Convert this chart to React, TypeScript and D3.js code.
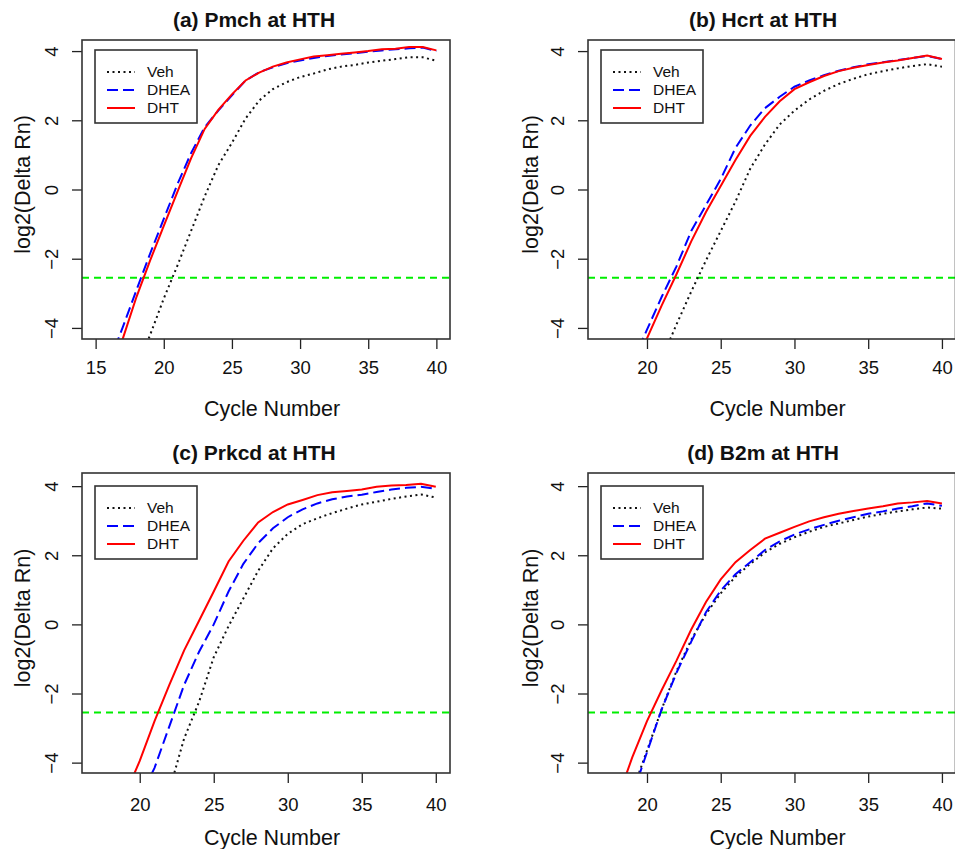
import React, { useRef, useEffect } from 'react';
import { select, scaleLinear, axisBottom, axisLeft, line } from 'd3';

// qPCR amplification curves, log2(Delta Rn) by cycle
const seriesNames = ['Veh', 'DHEA', 'DHT'];
const panelTitles = ['(a) Pmch at HTH', '(b) Hcrt at HTH', '(c) Prkcd at HTH', '(d) B2m at HTH'];
const xTicksA = [15, 20, 25, 30, 35, 40];
const xTicksRest = [20, 25, 30, 35, 40];
const yTicks = [-4, -2, 0, 2, 4];
const threshold = -2.55;

const pmchCycles = [16, 17, 18, 19, 20, 21, 22, 23, 24, 25, 26, 27, 28, 29, 30, 31, 32, 33, 34, 35, 36, 37, 38, 39, 40];
const pmchVeh = [-7.1, -6.1, -5.2, -4.2, -3.15, -2.2, -1.2, -0.2, 0.7, 1.35, 2.05, 2.57, 2.9, 3.1, 3.25, 3.35, 3.47, 3.55, 3.6, 3.67, 3.72, 3.77, 3.82, 3.82, 3.72];
const pmchDhea = [-5.0, -3.97, -2.9, -1.85, -0.85, 0.15, 1.05, 1.8, 2.28, 2.72, 3.15, 3.39, 3.53, 3.65, 3.73, 3.8, 3.86, 3.9, 3.94, 3.98, 4.02, 4.05, 4.08, 4.1, 4.0];
const pmchDht = [-5.3, -4.3, -3.1, -2.05, -1.05, -0.07, 0.9, 1.75, 2.3, 2.75, 3.15, 3.38, 3.55, 3.67, 3.76, 3.84, 3.88, 3.92, 3.96, 4.0, 4.05, 4.07, 4.12, 4.12, 4.02];

const hcrtCycles = [19, 20, 21, 22, 23, 24, 25, 26, 27, 28, 29, 30, 31, 32, 33, 34, 35, 36, 37, 38, 39, 40];
const hcrtVeh = [-6.8, -5.85, -4.9, -3.9, -2.95, -2.05, -1.2, -0.35, 0.6, 1.3, 1.88, 2.28, 2.6, 2.85, 3.05, 3.2, 3.33, 3.42, 3.5, 3.57, 3.62, 3.55];
const hcrtDhea = [-5.0, -4.05, -3.1, -2.22, -1.2, -0.45, 0.3, 1.2, 1.85, 2.35, 2.68, 2.97, 3.15, 3.3, 3.43, 3.53, 3.62, 3.68, 3.74, 3.8, 3.86, 3.77];
const hcrtDht = [-5.3, -4.3, -3.35, -2.45, -1.5, -0.65, 0.1, 0.85, 1.55, 2.1, 2.55, 2.9, 3.1, 3.28, 3.42, 3.52, 3.6, 3.67, 3.73, 3.8, 3.87, 3.77];

const prkcdCycles = [19, 20, 21, 22, 23, 24, 25, 26, 27, 28, 29, 30, 31, 32, 33, 34, 35, 36, 37, 38, 39, 40];
const prkcdVeh = [-8.0, -7.0, -5.9, -4.8, -3.3, -2.25, -0.95, -0.05, 0.75, 1.55, 2.2, 2.62, 2.9, 3.07, 3.22, 3.35, 3.47, 3.55, 3.63, 3.7, 3.76, 3.67];
const prkcdDhea = [-6.0, -5.05, -4.15, -2.95, -1.75, -0.8, 0.0, 0.95, 1.75, 2.35, 2.78, 3.1, 3.33, 3.5, 3.62, 3.7, 3.75, 3.83, 3.9, 3.95, 3.98, 3.92];
const prkcdDht = [-4.95, -3.95, -2.8, -1.75, -0.75, 0.1, 0.95, 1.82, 2.42, 2.95, 3.25, 3.47, 3.6, 3.74, 3.82, 3.86, 3.9, 3.98, 4.02, 4.03, 4.07, 3.98];

const b2mCycles = [18, 19, 20, 21, 22, 23, 24, 25, 26, 27, 28, 29, 30, 31, 32, 33, 34, 35, 36, 37, 38, 39, 40];
const b2mVeh = [-6.1, -4.85, -3.65, -2.45, -1.35, -0.45, 0.3, 0.9, 1.38, 1.75, 2.08, 2.33, 2.52, 2.68, 2.82, 2.92, 3.02, 3.12, 3.2, 3.27, 3.33, 3.38, 3.35];
const b2mDhea = [-6.2, -4.95, -3.7, -2.45, -1.4, -0.5, 0.35, 0.98, 1.45, 1.8, 2.15, 2.4, 2.6, 2.75, 2.88, 3.0, 3.1, 3.2, 3.27, 3.35, 3.42, 3.5, 3.43];
const b2mDht = [-5.05, -3.85, -2.8, -1.9, -1.05, -0.15, 0.65, 1.3, 1.8, 2.15, 2.48, 2.65, 2.82, 2.98, 3.1, 3.2, 3.28, 3.35, 3.42, 3.5, 3.53, 3.57, 3.5];

const seriesStyle = [
  { color: '#111', dash: '2,3.5' },
  { color: '#0000ff', dash: '11,5' },
  { color: '#ff0000', dash: null },
];

const panels = [
  { title: panelTitles[0], cycles: pmchCycles, values: [pmchVeh, pmchDhea, pmchDht], xDomain: [14, 41], xTicks: xTicksA,
    left: 82, right: 450, top: 40, bottom: 339, yDomain: [-4.32, 4.32], titleX: 254, titleY: 20, tickY: 368, labelY: 408, yLabelX: 22 },
  { title: panelTitles[1], cycles: hcrtCycles, values: [hcrtVeh, hcrtDhea, hcrtDht], xDomain: [16, 40.92], xTicks: xTicksRest,
    left: 588, right: 955.5, top: 40, bottom: 339, yDomain: [-4.32, 4.32], titleX: 763, titleY: 20, tickY: 368, labelY: 408, yLabelX: 530 },
  { title: panelTitles[2], cycles: prkcdCycles, values: [prkcdVeh, prkcdDhea, prkcdDht], xDomain: [16.1, 40.96], xTicks: xTicksRest,
    left: 82, right: 450, top: 473, bottom: 773, yDomain: [-4.3, 4.38], titleX: 254, titleY: 453, tickY: 805, labelY: 837, yLabelX: 22 },
  { title: panelTitles[3], cycles: b2mCycles, values: [b2mVeh, b2mDhea, b2mDht], xDomain: [16, 40.92], xTicks: xTicksRest,
    left: 588, right: 955.5, top: 473, bottom: 773, yDomain: [-4.3, 4.38], titleX: 763, titleY: 453, tickY: 805, labelY: 837, yLabelX: 530 },
];

const font = 'Liberation Sans, Arial, Helvetica, sans-serif';

function App() {
  const svgRef = useRef(null);

  useEffect(() => {
    const svg = select(svgRef.current);
    svg.selectAll('*').remove();

    panels.forEach((p, pi) => {
      const g = svg.append('g');
      const x = scaleLinear().domain(p.xDomain).range([p.left, p.right]);
      const y = scaleLinear().domain(p.yDomain).range([p.bottom, p.top]);

      const clipId = `clip-${pi}`;
      g.append('clipPath').attr('id', clipId)
        .append('rect')
        .attr('x', p.left).attr('y', p.top)
        .attr('width', p.right - p.left).attr('height', p.bottom - p.top);

      // x axis
      const xg = g.append('g')
        .attr('transform', `translate(0,${p.bottom})`)
        .call(axisBottom(x).tickValues(p.xTicks).tickSize(10).tickFormat((d) => String(d)));
      xg.select('.domain').remove();
      xg.selectAll('line').attr('stroke', '#222').attr('stroke-width', 1.3);
      xg.selectAll('text')
        .attr('y', p.tickY - p.bottom).attr('dy', '0.35em')
        .attr('font-family', font).attr('font-size', 18.5).attr('fill', '#111');

      // y axis, labels parallel to the axis like R
      const yg = g.append('g')
        .attr('transform', `translate(${p.left},0)`)
        .call(axisLeft(y).tickValues(yTicks).tickSize(10));
      yg.select('.domain').remove();
      yg.selectAll('line').attr('stroke', '#222').attr('stroke-width', 1.3);
      yg.selectAll('text')
        .attr('x', 0).attr('dy', '0.35em')
        .attr('text-anchor', 'middle')
        .attr('transform', `translate(${-30},0) rotate(-90)`)
        .attr('font-family', font).attr('font-size', 18.5).attr('fill', '#111');

      // threshold
      g.append('line')
        .attr('x1', p.left).attr('x2', p.right)
        .attr('y1', y(threshold)).attr('y2', y(threshold))
        .attr('stroke', '#00ee00').attr('stroke-width', 1.8).attr('stroke-dasharray', '7,5');

      // curves
      const curves = g.append('g').attr('clip-path', `url(#${clipId})`);
      p.values.forEach((vals, si) => {
        const pts = p.cycles.map((c, i) => [c, vals[i]]);
        const path = curves.append('path')
          .datum(pts)
          .attr('fill', 'none')
          .attr('stroke', seriesStyle[si].color)
          .attr('stroke-width', 2)
          .attr('d', line().x((d) => x(d[0])).y((d) => y(d[1])));
        if (seriesStyle[si].dash) path.attr('stroke-dasharray', seriesStyle[si].dash);
      });

      // plot box
      g.append('rect')
        .attr('x', p.left).attr('y', p.top)
        .attr('width', p.right - p.left).attr('height', p.bottom - p.top)
        .attr('fill', 'none').attr('stroke', '#333').attr('stroke-width', 1.6);

      // legend
      const lx = p.left + 13;
      const ly = p.top + (p.top > 100 ? 13 : 10);
      const lg = g.append('g').attr('transform', `translate(${lx},${ly})`);
      lg.append('rect')
        .attr('width', 102).attr('height', 73)
        .attr('fill', 'white').attr('stroke', '#333').attr('stroke-width', 1.6);
      seriesNames.forEach((name, si) => {
        const ey = 22 + si * 18;
        const l = lg.append('line')
          .attr('x1', 12).attr('x2', 40).attr('y1', ey).attr('y2', ey)
          .attr('stroke', seriesStyle[si].color).attr('stroke-width', 2);
        if (seriesStyle[si].dash) l.attr('stroke-dasharray', seriesStyle[si].dash);
        lg.append('text')
          .attr('x', 52).attr('y', ey).attr('dy', '0.35em')
          .attr('font-family', font).attr('font-size', 15.5).attr('fill', '#111')
          .text(name);
      });

      // titles
      g.append('text')
        .attr('x', p.titleX).attr('y', p.titleY).attr('dy', '0.35em')
        .attr('text-anchor', 'middle')
        .attr('font-family', font).attr('font-size', 21).attr('font-weight', 'bold').attr('fill', '#111')
        .text(p.title);
      g.append('text')
        .attr('x', (p.left + Math.min(p.right, 955)) / 2 + 6).attr('y', p.labelY).attr('dy', '0.35em')
        .attr('text-anchor', 'middle')
        .attr('font-family', font).attr('font-size', 21.5).attr('fill', '#111')
        .text('Cycle Number');
      g.append('text')
        .attr('transform', `translate(${p.yLabelX},${(p.top + p.bottom) / 2 - 5}) rotate(-90)`)
        .attr('dy', '0.35em')
        .attr('text-anchor', 'middle')
        .attr('font-family', font).attr('font-size', 21.5).attr('fill', '#111')
        .text('log2(Delta Rn)');
    });
  }, []);

  return (
    <svg
      ref={svgRef}
      width={955}
      height={849}
      style={{ position: 'absolute', left: 0, top: 0, background: 'white' }}
    />
  );
}

export default App;
